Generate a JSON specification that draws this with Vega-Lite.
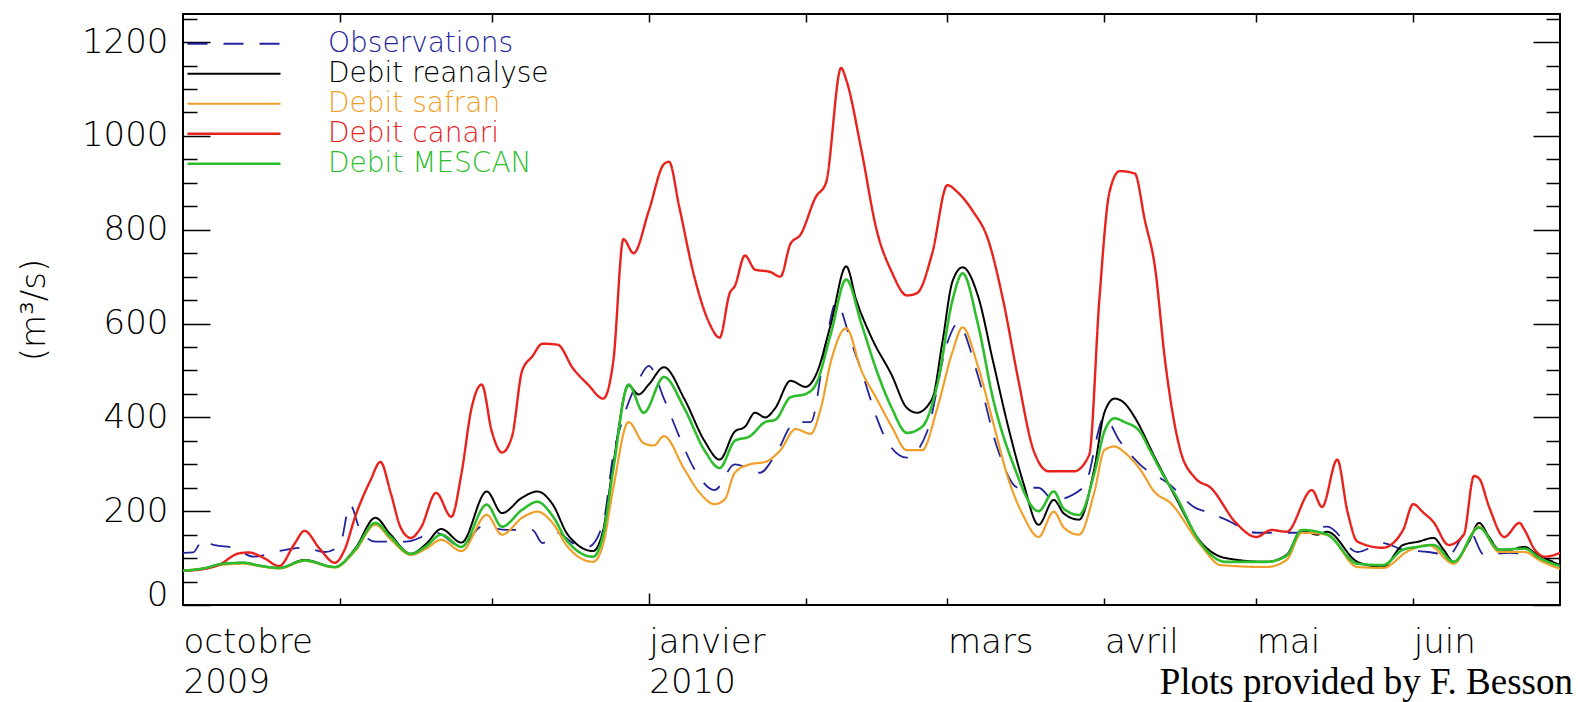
{
  "$schema": "https://vega.github.io/schema/vega-lite/v6.json",
  "width": 1377,
  "height": 591,
  "autosize": {"type": "none"},
  "padding": {"left": 183, "top": 14, "right": 17, "bottom": 97},
  "background": "white",
  "title": {"text": "Plots provided by F. Besson", "orient": "bottom", "anchor": "end", "frame": "group", "align": "right", "baseline": "alphabetic", "offset": -5, "dx": 13, "font": "Liberation Serif", "fontSize": 37, "fontWeight": "normal", "color": "black"},
  "config": {
    "view": {"stroke": "black", "strokeWidth": 2},
    "legend": {"orient": "none", "legendX": 3, "legendY": 15, "padding": 0, "symbolType": "stroke", "symbolSize": 8649, "symbolStrokeWidth": 2, "clipHeight": 29.5, "rowPadding": 0, "labelFontSize": 28, "labelFont": "DejaVu Sans", "labelFontWeight": 200, "labelOffset": 46, "labelLimit": 600, "title": null}
  },
  "datasets": {
    "flows": [
      {"date": "2009-10-01", "series": "Observations", "value": 111},
      {"date": "2009-10-03", "series": "Observations", "value": 112},
      {"date": "2009-10-05", "series": "Observations", "value": 140},
      {"date": "2009-10-07", "series": "Observations", "value": 128},
      {"date": "2009-10-11", "series": "Observations", "value": 122},
      {"date": "2009-10-15", "series": "Observations", "value": 103},
      {"date": "2009-10-20", "series": "Observations", "value": 115},
      {"date": "2009-10-25", "series": "Observations", "value": 122},
      {"date": "2009-10-29", "series": "Observations", "value": 113},
      {"date": "2009-11-01", "series": "Observations", "value": 128},
      {"date": "2009-11-03", "series": "Observations", "value": 214},
      {"date": "2009-11-05", "series": "Observations", "value": 160},
      {"date": "2009-11-08", "series": "Observations", "value": 135},
      {"date": "2009-11-14", "series": "Observations", "value": 135},
      {"date": "2009-11-20", "series": "Observations", "value": 154},
      {"date": "2009-11-25", "series": "Observations", "value": 124},
      {"date": "2009-11-29", "series": "Observations", "value": 167},
      {"date": "2009-12-04", "series": "Observations", "value": 160},
      {"date": "2009-12-09", "series": "Observations", "value": 160},
      {"date": "2009-12-11", "series": "Observations", "value": 132},
      {"date": "2009-12-14", "series": "Observations", "value": 154},
      {"date": "2009-12-17", "series": "Observations", "value": 132},
      {"date": "2009-12-20", "series": "Observations", "value": 124},
      {"date": "2009-12-23", "series": "Observations", "value": 175},
      {"date": "2009-12-25", "series": "Observations", "value": 320},
      {"date": "2009-12-27", "series": "Observations", "value": 400},
      {"date": "2009-12-30", "series": "Observations", "value": 480},
      {"date": "2010-01-01", "series": "Observations", "value": 510},
      {"date": "2010-01-04", "series": "Observations", "value": 440},
      {"date": "2010-01-07", "series": "Observations", "value": 360},
      {"date": "2010-01-10", "series": "Observations", "value": 290},
      {"date": "2010-01-14", "series": "Observations", "value": 245},
      {"date": "2010-01-18", "series": "Observations", "value": 300},
      {"date": "2010-01-23", "series": "Observations", "value": 282},
      {"date": "2010-01-26", "series": "Observations", "value": 320},
      {"date": "2010-01-30", "series": "Observations", "value": 390},
      {"date": "2010-02-02", "series": "Observations", "value": 390},
      {"date": "2010-02-05", "series": "Observations", "value": 560},
      {"date": "2010-02-07", "series": "Observations", "value": 645},
      {"date": "2010-02-10", "series": "Observations", "value": 560},
      {"date": "2010-02-12", "series": "Observations", "value": 500},
      {"date": "2010-02-15", "series": "Observations", "value": 400},
      {"date": "2010-02-17", "series": "Observations", "value": 350},
      {"date": "2010-02-21", "series": "Observations", "value": 314},
      {"date": "2010-02-25", "series": "Observations", "value": 370},
      {"date": "2010-03-01", "series": "Observations", "value": 560},
      {"date": "2010-03-03", "series": "Observations", "value": 600},
      {"date": "2010-03-07", "series": "Observations", "value": 490},
      {"date": "2010-03-11", "series": "Observations", "value": 330},
      {"date": "2010-03-15", "series": "Observations", "value": 250},
      {"date": "2010-03-19", "series": "Observations", "value": 250},
      {"date": "2010-03-22", "series": "Observations", "value": 224},
      {"date": "2010-03-28", "series": "Observations", "value": 252},
      {"date": "2010-04-01", "series": "Observations", "value": 400},
      {"date": "2010-04-04", "series": "Observations", "value": 350},
      {"date": "2010-04-08", "series": "Observations", "value": 300},
      {"date": "2010-04-14", "series": "Observations", "value": 256},
      {"date": "2010-04-19", "series": "Observations", "value": 207},
      {"date": "2010-04-21", "series": "Observations", "value": 199},
      {"date": "2010-04-25", "series": "Observations", "value": 182},
      {"date": "2010-05-01", "series": "Observations", "value": 154},
      {"date": "2010-05-09", "series": "Observations", "value": 154},
      {"date": "2010-05-15", "series": "Observations", "value": 167},
      {"date": "2010-05-21", "series": "Observations", "value": 113},
      {"date": "2010-05-26", "series": "Observations", "value": 132},
      {"date": "2010-05-30", "series": "Observations", "value": 118},
      {"date": "2010-06-04", "series": "Observations", "value": 113},
      {"date": "2010-06-08", "series": "Observations", "value": 107},
      {"date": "2010-06-12", "series": "Observations", "value": 160},
      {"date": "2010-06-15", "series": "Observations", "value": 107},
      {"date": "2010-06-20", "series": "Observations", "value": 111},
      {"date": "2010-06-26", "series": "Observations", "value": 100},
      {"date": "2010-06-28", "series": "Observations", "value": 92},
      {"date": "2010-06-30", "series": "Observations", "value": 103},

      {"date": "2009-10-01", "series": "Debit reanalyse", "value": 73},
      {"date": "2009-10-05", "series": "Debit reanalyse", "value": 78},
      {"date": "2009-10-09", "series": "Debit reanalyse", "value": 88},
      {"date": "2009-10-13", "series": "Debit reanalyse", "value": 90},
      {"date": "2009-10-16", "series": "Debit reanalyse", "value": 84},
      {"date": "2009-10-20", "series": "Debit reanalyse", "value": 79},
      {"date": "2009-10-25", "series": "Debit reanalyse", "value": 96},
      {"date": "2009-10-31", "series": "Debit reanalyse", "value": 81},
      {"date": "2009-11-04", "series": "Debit reanalyse", "value": 120},
      {"date": "2009-11-08", "series": "Debit reanalyse", "value": 186},
      {"date": "2009-11-11", "series": "Debit reanalyse", "value": 150},
      {"date": "2009-11-15", "series": "Debit reanalyse", "value": 109},
      {"date": "2009-11-18", "series": "Debit reanalyse", "value": 130},
      {"date": "2009-11-21", "series": "Debit reanalyse", "value": 162},
      {"date": "2009-11-25", "series": "Debit reanalyse", "value": 133},
      {"date": "2009-11-30", "series": "Debit reanalyse", "value": 242},
      {"date": "2009-12-03", "series": "Debit reanalyse", "value": 196},
      {"date": "2009-12-07", "series": "Debit reanalyse", "value": 229},
      {"date": "2009-12-10", "series": "Debit reanalyse", "value": 242},
      {"date": "2009-12-13", "series": "Debit reanalyse", "value": 215},
      {"date": "2009-12-16", "series": "Debit reanalyse", "value": 150},
      {"date": "2009-12-21", "series": "Debit reanalyse", "value": 115},
      {"date": "2009-12-23", "series": "Debit reanalyse", "value": 160},
      {"date": "2009-12-25", "series": "Debit reanalyse", "value": 300},
      {"date": "2009-12-28", "series": "Debit reanalyse", "value": 468},
      {"date": "2009-12-30", "series": "Debit reanalyse", "value": 449},
      {"date": "2010-01-01", "series": "Debit reanalyse", "value": 470},
      {"date": "2010-01-04", "series": "Debit reanalyse", "value": 507},
      {"date": "2010-01-08", "series": "Debit reanalyse", "value": 440},
      {"date": "2010-01-12", "series": "Debit reanalyse", "value": 350},
      {"date": "2010-01-15", "series": "Debit reanalyse", "value": 310},
      {"date": "2010-01-18", "series": "Debit reanalyse", "value": 370},
      {"date": "2010-01-20", "series": "Debit reanalyse", "value": 380},
      {"date": "2010-01-22", "series": "Debit reanalyse", "value": 410},
      {"date": "2010-01-24", "series": "Debit reanalyse", "value": 400},
      {"date": "2010-01-26", "series": "Debit reanalyse", "value": 420},
      {"date": "2010-01-29", "series": "Debit reanalyse", "value": 478},
      {"date": "2010-02-01", "series": "Debit reanalyse", "value": 465},
      {"date": "2010-02-03", "series": "Debit reanalyse", "value": 490},
      {"date": "2010-02-06", "series": "Debit reanalyse", "value": 600},
      {"date": "2010-02-09", "series": "Debit reanalyse", "value": 722},
      {"date": "2010-02-11", "series": "Debit reanalyse", "value": 650},
      {"date": "2010-02-14", "series": "Debit reanalyse", "value": 570},
      {"date": "2010-02-18", "series": "Debit reanalyse", "value": 490},
      {"date": "2010-02-21", "series": "Debit reanalyse", "value": 420},
      {"date": "2010-02-23", "series": "Debit reanalyse", "value": 410},
      {"date": "2010-02-26", "series": "Debit reanalyse", "value": 440},
      {"date": "2010-02-28", "series": "Debit reanalyse", "value": 560},
      {"date": "2010-03-02", "series": "Debit reanalyse", "value": 690},
      {"date": "2010-03-04", "series": "Debit reanalyse", "value": 720},
      {"date": "2010-03-07", "series": "Debit reanalyse", "value": 660},
      {"date": "2010-03-10", "series": "Debit reanalyse", "value": 520},
      {"date": "2010-03-13", "series": "Debit reanalyse", "value": 380},
      {"date": "2010-03-16", "series": "Debit reanalyse", "value": 260},
      {"date": "2010-03-19", "series": "Debit reanalyse", "value": 171},
      {"date": "2010-03-22", "series": "Debit reanalyse", "value": 224},
      {"date": "2010-03-24", "series": "Debit reanalyse", "value": 195},
      {"date": "2010-03-27", "series": "Debit reanalyse", "value": 182},
      {"date": "2010-03-30", "series": "Debit reanalyse", "value": 290},
      {"date": "2010-04-01", "series": "Debit reanalyse", "value": 410},
      {"date": "2010-04-03", "series": "Debit reanalyse", "value": 440},
      {"date": "2010-04-05", "series": "Debit reanalyse", "value": 430},
      {"date": "2010-04-07", "series": "Debit reanalyse", "value": 400},
      {"date": "2010-04-11", "series": "Debit reanalyse", "value": 314},
      {"date": "2010-04-15", "series": "Debit reanalyse", "value": 231},
      {"date": "2010-04-20", "series": "Debit reanalyse", "value": 135},
      {"date": "2010-04-25", "series": "Debit reanalyse", "value": 100},
      {"date": "2010-05-03", "series": "Debit reanalyse", "value": 92},
      {"date": "2010-05-07", "series": "Debit reanalyse", "value": 107},
      {"date": "2010-05-10", "series": "Debit reanalyse", "value": 160},
      {"date": "2010-05-13", "series": "Debit reanalyse", "value": 150},
      {"date": "2010-05-15", "series": "Debit reanalyse", "value": 156},
      {"date": "2010-05-21", "series": "Debit reanalyse", "value": 92},
      {"date": "2010-05-26", "series": "Debit reanalyse", "value": 81},
      {"date": "2010-05-30", "series": "Debit reanalyse", "value": 128},
      {"date": "2010-06-02", "series": "Debit reanalyse", "value": 135},
      {"date": "2010-06-05", "series": "Debit reanalyse", "value": 143},
      {"date": "2010-06-07", "series": "Debit reanalyse", "value": 118},
      {"date": "2010-06-09", "series": "Debit reanalyse", "value": 92},
      {"date": "2010-06-12", "series": "Debit reanalyse", "value": 135},
      {"date": "2010-06-14", "series": "Debit reanalyse", "value": 175},
      {"date": "2010-06-16", "series": "Debit reanalyse", "value": 145},
      {"date": "2010-06-18", "series": "Debit reanalyse", "value": 118},
      {"date": "2010-06-20", "series": "Debit reanalyse", "value": 118},
      {"date": "2010-06-23", "series": "Debit reanalyse", "value": 124},
      {"date": "2010-06-25", "series": "Debit reanalyse", "value": 111},
      {"date": "2010-06-27", "series": "Debit reanalyse", "value": 100},
      {"date": "2010-06-30", "series": "Debit reanalyse", "value": 85},

      {"date": "2009-10-01", "series": "Debit safran", "value": 73},
      {"date": "2009-10-05", "series": "Debit safran", "value": 78},
      {"date": "2009-10-09", "series": "Debit safran", "value": 86},
      {"date": "2009-10-13", "series": "Debit safran", "value": 88},
      {"date": "2009-10-16", "series": "Debit safran", "value": 83},
      {"date": "2009-10-20", "series": "Debit safran", "value": 78},
      {"date": "2009-10-25", "series": "Debit safran", "value": 94},
      {"date": "2009-10-31", "series": "Debit safran", "value": 80},
      {"date": "2009-11-04", "series": "Debit safran", "value": 115},
      {"date": "2009-11-08", "series": "Debit safran", "value": 171},
      {"date": "2009-11-11", "series": "Debit safran", "value": 140},
      {"date": "2009-11-15", "series": "Debit safran", "value": 107},
      {"date": "2009-11-18", "series": "Debit safran", "value": 120},
      {"date": "2009-11-21", "series": "Debit safran", "value": 139},
      {"date": "2009-11-25", "series": "Debit safran", "value": 115},
      {"date": "2009-11-30", "series": "Debit safran", "value": 192},
      {"date": "2009-12-03", "series": "Debit safran", "value": 150},
      {"date": "2009-12-07", "series": "Debit safran", "value": 186},
      {"date": "2009-12-10", "series": "Debit safran", "value": 199},
      {"date": "2009-12-13", "series": "Debit safran", "value": 175},
      {"date": "2009-12-16", "series": "Debit safran", "value": 124},
      {"date": "2009-12-21", "series": "Debit safran", "value": 92},
      {"date": "2009-12-23", "series": "Debit safran", "value": 130},
      {"date": "2009-12-25", "series": "Debit safran", "value": 250},
      {"date": "2009-12-28", "series": "Debit safran", "value": 390},
      {"date": "2009-12-31", "series": "Debit safran", "value": 345},
      {"date": "2010-01-02", "series": "Debit safran", "value": 340},
      {"date": "2010-01-04", "series": "Debit safran", "value": 360},
      {"date": "2010-01-08", "series": "Debit safran", "value": 290},
      {"date": "2010-01-11", "series": "Debit safran", "value": 240},
      {"date": "2010-01-14", "series": "Debit safran", "value": 215},
      {"date": "2010-01-16", "series": "Debit safran", "value": 225},
      {"date": "2010-01-18", "series": "Debit safran", "value": 282},
      {"date": "2010-01-21", "series": "Debit safran", "value": 300},
      {"date": "2010-01-24", "series": "Debit safran", "value": 305},
      {"date": "2010-01-27", "series": "Debit safran", "value": 330},
      {"date": "2010-01-30", "series": "Debit safran", "value": 375},
      {"date": "2010-02-02", "series": "Debit safran", "value": 365},
      {"date": "2010-02-04", "series": "Debit safran", "value": 420},
      {"date": "2010-02-06", "series": "Debit safran", "value": 520},
      {"date": "2010-02-09", "series": "Debit safran", "value": 590},
      {"date": "2010-02-12", "series": "Debit safran", "value": 500},
      {"date": "2010-02-15", "series": "Debit safran", "value": 440},
      {"date": "2010-02-18", "series": "Debit safran", "value": 380},
      {"date": "2010-02-21", "series": "Debit safran", "value": 330},
      {"date": "2010-02-24", "series": "Debit safran", "value": 330},
      {"date": "2010-02-27", "series": "Debit safran", "value": 420},
      {"date": "2010-03-02", "series": "Debit safran", "value": 540},
      {"date": "2010-03-04", "series": "Debit safran", "value": 592},
      {"date": "2010-03-07", "series": "Debit safran", "value": 510},
      {"date": "2010-03-10", "series": "Debit safran", "value": 390},
      {"date": "2010-03-13", "series": "Debit safran", "value": 270},
      {"date": "2010-03-16", "series": "Debit safran", "value": 190},
      {"date": "2010-03-19", "series": "Debit safran", "value": 145},
      {"date": "2010-03-22", "series": "Debit safran", "value": 199},
      {"date": "2010-03-24", "series": "Debit safran", "value": 165},
      {"date": "2010-03-27", "series": "Debit safran", "value": 150},
      {"date": "2010-03-30", "series": "Debit safran", "value": 240},
      {"date": "2010-04-01", "series": "Debit safran", "value": 330},
      {"date": "2010-04-03", "series": "Debit safran", "value": 338},
      {"date": "2010-04-05", "series": "Debit safran", "value": 325},
      {"date": "2010-04-08", "series": "Debit safran", "value": 290},
      {"date": "2010-04-11", "series": "Debit safran", "value": 240},
      {"date": "2010-04-14", "series": "Debit safran", "value": 218},
      {"date": "2010-04-20", "series": "Debit safran", "value": 128},
      {"date": "2010-04-24", "series": "Debit safran", "value": 85},
      {"date": "2010-05-03", "series": "Debit safran", "value": 81},
      {"date": "2010-05-07", "series": "Debit safran", "value": 96},
      {"date": "2010-05-10", "series": "Debit safran", "value": 154},
      {"date": "2010-05-15", "series": "Debit safran", "value": 150},
      {"date": "2010-05-21", "series": "Debit safran", "value": 81},
      {"date": "2010-05-26", "series": "Debit safran", "value": 79},
      {"date": "2010-05-31", "series": "Debit safran", "value": 115},
      {"date": "2010-06-04", "series": "Debit safran", "value": 128},
      {"date": "2010-06-09", "series": "Debit safran", "value": 88},
      {"date": "2010-06-14", "series": "Debit safran", "value": 167},
      {"date": "2010-06-18", "series": "Debit safran", "value": 113},
      {"date": "2010-06-23", "series": "Debit safran", "value": 113},
      {"date": "2010-06-26", "series": "Debit safran", "value": 95},
      {"date": "2010-06-30", "series": "Debit safran", "value": 77},

      {"date": "2009-10-01", "series": "Debit canari", "value": 73},
      {"date": "2009-10-04", "series": "Debit canari", "value": 75},
      {"date": "2009-10-08", "series": "Debit canari", "value": 85},
      {"date": "2009-10-12", "series": "Debit canari", "value": 110},
      {"date": "2009-10-14", "series": "Debit canari", "value": 112},
      {"date": "2009-10-17", "series": "Debit canari", "value": 100},
      {"date": "2009-10-20", "series": "Debit canari", "value": 83},
      {"date": "2009-10-23", "series": "Debit canari", "value": 130},
      {"date": "2009-10-25", "series": "Debit canari", "value": 158},
      {"date": "2009-10-28", "series": "Debit canari", "value": 120},
      {"date": "2009-10-31", "series": "Debit canari", "value": 90},
      {"date": "2009-11-02", "series": "Debit canari", "value": 120},
      {"date": "2009-11-04", "series": "Debit canari", "value": 188},
      {"date": "2009-11-07", "series": "Debit canari", "value": 265},
      {"date": "2009-11-09", "series": "Debit canari", "value": 305},
      {"date": "2009-11-11", "series": "Debit canari", "value": 240},
      {"date": "2009-11-13", "series": "Debit canari", "value": 165},
      {"date": "2009-11-15", "series": "Debit canari", "value": 143},
      {"date": "2009-11-17", "series": "Debit canari", "value": 165},
      {"date": "2009-11-20", "series": "Debit canari", "value": 239},
      {"date": "2009-11-23", "series": "Debit canari", "value": 188},
      {"date": "2009-11-25", "series": "Debit canari", "value": 280},
      {"date": "2009-11-27", "series": "Debit canari", "value": 420},
      {"date": "2009-11-29", "series": "Debit canari", "value": 470},
      {"date": "2009-12-01", "series": "Debit canari", "value": 370},
      {"date": "2009-12-03", "series": "Debit canari", "value": 325},
      {"date": "2009-12-05", "series": "Debit canari", "value": 360},
      {"date": "2009-12-07", "series": "Debit canari", "value": 500},
      {"date": "2009-12-09", "series": "Debit canari", "value": 530},
      {"date": "2009-12-11", "series": "Debit canari", "value": 557},
      {"date": "2009-12-14", "series": "Debit canari", "value": 555},
      {"date": "2009-12-17", "series": "Debit canari", "value": 505},
      {"date": "2009-12-20", "series": "Debit canari", "value": 470},
      {"date": "2009-12-23", "series": "Debit canari", "value": 440},
      {"date": "2009-12-25", "series": "Debit canari", "value": 520},
      {"date": "2009-12-27", "series": "Debit canari", "value": 780},
      {"date": "2009-12-29", "series": "Debit canari", "value": 750},
      {"date": "2010-01-01", "series": "Debit canari", "value": 840},
      {"date": "2010-01-04", "series": "Debit canari", "value": 940},
      {"date": "2010-01-05", "series": "Debit canari", "value": 945},
      {"date": "2010-01-07", "series": "Debit canari", "value": 850},
      {"date": "2010-01-10", "series": "Debit canari", "value": 700},
      {"date": "2010-01-13", "series": "Debit canari", "value": 600},
      {"date": "2010-01-15", "series": "Debit canari", "value": 570},
      {"date": "2010-01-17", "series": "Debit canari", "value": 665},
      {"date": "2010-01-18", "series": "Debit canari", "value": 680},
      {"date": "2010-01-20", "series": "Debit canari", "value": 745},
      {"date": "2010-01-22", "series": "Debit canari", "value": 715},
      {"date": "2010-01-25", "series": "Debit canari", "value": 710},
      {"date": "2010-01-27", "series": "Debit canari", "value": 700},
      {"date": "2010-01-29", "series": "Debit canari", "value": 770},
      {"date": "2010-01-31", "series": "Debit canari", "value": 790},
      {"date": "2010-02-03", "series": "Debit canari", "value": 870},
      {"date": "2010-02-05", "series": "Debit canari", "value": 900},
      {"date": "2010-02-08", "series": "Debit canari", "value": 1145},
      {"date": "2010-02-09", "series": "Debit canari", "value": 1120},
      {"date": "2010-02-12", "series": "Debit canari", "value": 970},
      {"date": "2010-02-15", "series": "Debit canari", "value": 800},
      {"date": "2010-02-18", "series": "Debit canari", "value": 710},
      {"date": "2010-02-21", "series": "Debit canari", "value": 660},
      {"date": "2010-02-23", "series": "Debit canari", "value": 665},
      {"date": "2010-02-26", "series": "Debit canari", "value": 750},
      {"date": "2010-03-01", "series": "Debit canari", "value": 895},
      {"date": "2010-03-03", "series": "Debit canari", "value": 880},
      {"date": "2010-03-06", "series": "Debit canari", "value": 840},
      {"date": "2010-03-09", "series": "Debit canari", "value": 780},
      {"date": "2010-03-12", "series": "Debit canari", "value": 650},
      {"date": "2010-03-15", "series": "Debit canari", "value": 480},
      {"date": "2010-03-18", "series": "Debit canari", "value": 330},
      {"date": "2010-03-21", "series": "Debit canari", "value": 285},
      {"date": "2010-03-26", "series": "Debit canari", "value": 285},
      {"date": "2010-03-29", "series": "Debit canari", "value": 320},
      {"date": "2010-03-31", "series": "Debit canari", "value": 650},
      {"date": "2010-04-02", "series": "Debit canari", "value": 880},
      {"date": "2010-04-04", "series": "Debit canari", "value": 925},
      {"date": "2010-04-07", "series": "Debit canari", "value": 920},
      {"date": "2010-04-09", "series": "Debit canari", "value": 820},
      {"date": "2010-04-11", "series": "Debit canari", "value": 720},
      {"date": "2010-04-13", "series": "Debit canari", "value": 520},
      {"date": "2010-04-16", "series": "Debit canari", "value": 330},
      {"date": "2010-04-19", "series": "Debit canari", "value": 270},
      {"date": "2010-04-22", "series": "Debit canari", "value": 250},
      {"date": "2010-04-27", "series": "Debit canari", "value": 175},
      {"date": "2010-05-01", "series": "Debit canari", "value": 145},
      {"date": "2010-05-04", "series": "Debit canari", "value": 160},
      {"date": "2010-05-07", "series": "Debit canari", "value": 156},
      {"date": "2010-05-12", "series": "Debit canari", "value": 245},
      {"date": "2010-05-14", "series": "Debit canari", "value": 209},
      {"date": "2010-05-17", "series": "Debit canari", "value": 310},
      {"date": "2010-05-19", "series": "Debit canari", "value": 200},
      {"date": "2010-05-21", "series": "Debit canari", "value": 135},
      {"date": "2010-05-26", "series": "Debit canari", "value": 122},
      {"date": "2010-05-30", "series": "Debit canari", "value": 160},
      {"date": "2010-06-01", "series": "Debit canari", "value": 215},
      {"date": "2010-06-03", "series": "Debit canari", "value": 197},
      {"date": "2010-06-05", "series": "Debit canari", "value": 177},
      {"date": "2010-06-08", "series": "Debit canari", "value": 128},
      {"date": "2010-06-11", "series": "Debit canari", "value": 150},
      {"date": "2010-06-13", "series": "Debit canari", "value": 275},
      {"date": "2010-06-14", "series": "Debit canari", "value": 270},
      {"date": "2010-06-16", "series": "Debit canari", "value": 209},
      {"date": "2010-06-19", "series": "Debit canari", "value": 145},
      {"date": "2010-06-22", "series": "Debit canari", "value": 175},
      {"date": "2010-06-23", "series": "Debit canari", "value": 160},
      {"date": "2010-06-25", "series": "Debit canari", "value": 118},
      {"date": "2010-06-27", "series": "Debit canari", "value": 103},
      {"date": "2010-06-30", "series": "Debit canari", "value": 111},

      {"date": "2009-10-01", "series": "Debit MESCAN", "value": 73},
      {"date": "2009-10-05", "series": "Debit MESCAN", "value": 78},
      {"date": "2009-10-09", "series": "Debit MESCAN", "value": 88},
      {"date": "2009-10-13", "series": "Debit MESCAN", "value": 90},
      {"date": "2009-10-16", "series": "Debit MESCAN", "value": 84},
      {"date": "2009-10-20", "series": "Debit MESCAN", "value": 79},
      {"date": "2009-10-25", "series": "Debit MESCAN", "value": 95},
      {"date": "2009-10-31", "series": "Debit MESCAN", "value": 81},
      {"date": "2009-11-04", "series": "Debit MESCAN", "value": 118},
      {"date": "2009-11-08", "series": "Debit MESCAN", "value": 175},
      {"date": "2009-11-11", "series": "Debit MESCAN", "value": 145},
      {"date": "2009-11-15", "series": "Debit MESCAN", "value": 109},
      {"date": "2009-11-18", "series": "Debit MESCAN", "value": 125},
      {"date": "2009-11-21", "series": "Debit MESCAN", "value": 150},
      {"date": "2009-11-25", "series": "Debit MESCAN", "value": 124},
      {"date": "2009-11-30", "series": "Debit MESCAN", "value": 214},
      {"date": "2009-12-03", "series": "Debit MESCAN", "value": 167},
      {"date": "2009-12-07", "series": "Debit MESCAN", "value": 203},
      {"date": "2009-12-10", "series": "Debit MESCAN", "value": 220},
      {"date": "2009-12-13", "series": "Debit MESCAN", "value": 190},
      {"date": "2009-12-16", "series": "Debit MESCAN", "value": 135},
      {"date": "2009-12-21", "series": "Debit MESCAN", "value": 103},
      {"date": "2009-12-23", "series": "Debit MESCAN", "value": 150},
      {"date": "2009-12-25", "series": "Debit MESCAN", "value": 290},
      {"date": "2009-12-28", "series": "Debit MESCAN", "value": 470},
      {"date": "2009-12-31", "series": "Debit MESCAN", "value": 410},
      {"date": "2010-01-04", "series": "Debit MESCAN", "value": 486},
      {"date": "2010-01-08", "series": "Debit MESCAN", "value": 420},
      {"date": "2010-01-12", "series": "Debit MESCAN", "value": 330},
      {"date": "2010-01-15", "series": "Debit MESCAN", "value": 292},
      {"date": "2010-01-18", "series": "Debit MESCAN", "value": 350},
      {"date": "2010-01-21", "series": "Debit MESCAN", "value": 360},
      {"date": "2010-01-24", "series": "Debit MESCAN", "value": 390},
      {"date": "2010-01-26", "series": "Debit MESCAN", "value": 395},
      {"date": "2010-01-29", "series": "Debit MESCAN", "value": 443},
      {"date": "2010-02-01", "series": "Debit MESCAN", "value": 450},
      {"date": "2010-02-03", "series": "Debit MESCAN", "value": 470},
      {"date": "2010-02-06", "series": "Debit MESCAN", "value": 580},
      {"date": "2010-02-09", "series": "Debit MESCAN", "value": 694},
      {"date": "2010-02-12", "series": "Debit MESCAN", "value": 600},
      {"date": "2010-02-15", "series": "Debit MESCAN", "value": 500},
      {"date": "2010-02-18", "series": "Debit MESCAN", "value": 420},
      {"date": "2010-02-21", "series": "Debit MESCAN", "value": 367},
      {"date": "2010-02-24", "series": "Debit MESCAN", "value": 380},
      {"date": "2010-02-27", "series": "Debit MESCAN", "value": 470},
      {"date": "2010-03-02", "series": "Debit MESCAN", "value": 650},
      {"date": "2010-03-04", "series": "Debit MESCAN", "value": 707},
      {"date": "2010-03-07", "series": "Debit MESCAN", "value": 600},
      {"date": "2010-03-10", "series": "Debit MESCAN", "value": 440},
      {"date": "2010-03-14", "series": "Debit MESCAN", "value": 300},
      {"date": "2010-03-19", "series": "Debit MESCAN", "value": 200},
      {"date": "2010-03-22", "series": "Debit MESCAN", "value": 242},
      {"date": "2010-03-24", "series": "Debit MESCAN", "value": 205},
      {"date": "2010-03-27", "series": "Debit MESCAN", "value": 192},
      {"date": "2010-03-30", "series": "Debit MESCAN", "value": 280},
      {"date": "2010-04-01", "series": "Debit MESCAN", "value": 370},
      {"date": "2010-04-03", "series": "Debit MESCAN", "value": 398},
      {"date": "2010-04-05", "series": "Debit MESCAN", "value": 390},
      {"date": "2010-04-08", "series": "Debit MESCAN", "value": 370},
      {"date": "2010-04-10", "series": "Debit MESCAN", "value": 330},
      {"date": "2010-04-13", "series": "Debit MESCAN", "value": 270},
      {"date": "2010-04-15", "series": "Debit MESCAN", "value": 235},
      {"date": "2010-04-20", "series": "Debit MESCAN", "value": 132},
      {"date": "2010-04-25", "series": "Debit MESCAN", "value": 92},
      {"date": "2010-05-03", "series": "Debit MESCAN", "value": 92},
      {"date": "2010-05-07", "series": "Debit MESCAN", "value": 105},
      {"date": "2010-05-10", "series": "Debit MESCAN", "value": 160},
      {"date": "2010-05-15", "series": "Debit MESCAN", "value": 150},
      {"date": "2010-05-21", "series": "Debit MESCAN", "value": 88},
      {"date": "2010-05-26", "series": "Debit MESCAN", "value": 85},
      {"date": "2010-05-30", "series": "Debit MESCAN", "value": 118},
      {"date": "2010-06-02", "series": "Debit MESCAN", "value": 124},
      {"date": "2010-06-05", "series": "Debit MESCAN", "value": 128},
      {"date": "2010-06-09", "series": "Debit MESCAN", "value": 92},
      {"date": "2010-06-14", "series": "Debit MESCAN", "value": 165},
      {"date": "2010-06-18", "series": "Debit MESCAN", "value": 118},
      {"date": "2010-06-23", "series": "Debit MESCAN", "value": 120},
      {"date": "2010-06-26", "series": "Debit MESCAN", "value": 100},
      {"date": "2010-06-30", "series": "Debit MESCAN", "value": 83}
    ]
  },
  "data": {"name": "flows"},
  "layer": [
    {
      "mark": {"type": "line", "interpolate": "monotone"},
      "encoding": {
        "x": {
          "field": "date", "type": "temporal",
          "scale": {"type": "utc", "domain": [{"year": 2009, "month": 10, "date": 1, "utc": true}, {"year": 2010, "month": 6, "date": 30, "utc": true}]},
          "axis": {
            "orient": "bottom", "title": null, "ticks": false, "domain": false, "grid": false,
            "values": [{"year": 2009, "month": 10, "date": 1, "utc": true}, {"year": 2009, "month": 11, "date": 1, "utc": true}, {"year": 2009, "month": 12, "date": 1, "utc": true}, {"year": 2010, "month": 1, "date": 1, "utc": true}, {"year": 2010, "month": 2, "date": 1, "utc": true}, {"year": 2010, "month": 3, "date": 1, "utc": true}, {"year": 2010, "month": 4, "date": 1, "utc": true}, {"year": 2010, "month": 5, "date": 1, "utc": true}, {"year": 2010, "month": 6, "date": 1, "utc": true}],
            "labelExpr": "utcmonth(datum.value) == 9 ? ['octobre', '2009'] : utcmonth(datum.value) == 0 ? ['janvier', '2010'] : utcmonth(datum.value) == 2 ? 'mars' : utcmonth(datum.value) == 3 ? 'avril' : utcmonth(datum.value) == 4 ? 'mai' : utcmonth(datum.value) == 5 ? 'juin' : ''",
            "labelAlign": "left", "labelBaseline": "top", "labelPadding": 20, "labelLineHeight": 40,
            "labelFont": "DejaVu Sans", "labelFontSize": 34, "labelFontWeight": 200, "labelColor": "black",
            "labelOverlap": false, "labelBound": false, "labelFlush": false, "labelLimit": 400
          }
        },
        "y": {
          "field": "value", "type": "quantitative",
          "scale": {"domain": [0, 1260], "nice": false, "zero": false},
          "axis": {
            "orient": "left", "values": [0, 200, 400, 600, 800, 1000, 1200], "format": "d",
            "ticks": false, "domain": false, "grid": false,
            "labelFont": "DejaVu Sans", "labelFontSize": 34, "labelFontWeight": 200, "labelColor": "black", "labelPadding": 15,
            "labelOffset": {"condition": {"test": "datum.value === 0", "value": -10}, "value": 0},
            "labelOverlap": false, "labelFlush": false,
            "title": "(m³/s)", "titleFont": "DejaVu Sans", "titleFontSize": 34, "titleFontWeight": 200, "titleColor": "black", "titlePadding": 30
          }
        },
        "color": {
          "field": "series", "type": "nominal",
          "scale": {"domain": ["Observations", "Debit reanalyse", "Debit safran", "Debit canari", "Debit MESCAN"], "range": ["#23239b", "#000000", "#f0a02a", "#e8231e", "#2dbd2d"]},
          "legend": {"encode": {"labels": {"update": {"fill": {"scale": "color", "field": "value"}}}}}
        },
        "strokeDash": {
          "field": "series", "type": "nominal",
          "scale": {"domain": ["Observations", "Debit reanalyse", "Debit safran", "Debit canari", "Debit MESCAN"], "range": [[20, 16], [1, 0], [1, 0], [1, 0], [1, 0]]},
          "legend": {"encode": {"labels": {"update": {"fill": {"scale": "color", "field": "value"}}}}}
        },
        "strokeWidth": {
          "field": "series", "type": "nominal",
          "scale": {"domain": ["Observations", "Debit reanalyse", "Debit safran", "Debit canari", "Debit MESCAN"], "range": [1.8, 2.6, 2.6, 2.6, 2.6]},
          "legend": null
        }
      }
    },
    {
      "mark": {"type": "rule", "opacity": 0},
      "encoding": {
        "y": {
          "field": "value", "type": "quantitative",
          "scale": {"domain": [0, 1260], "nice": false, "zero": false},
          "axis": {"orient": "left", "values": [0, 50, 100, 150, 200, 250, 300, 350, 400, 450, 500, 550, 600, 650, 700, 750, 800, 850, 900, 950, 1000, 1050, 1100, 1150, 1200, 1250], "labels": false, "domain": false, "grid": false, "ticks": true, "tickColor": "black", "tickWidth": 1.5, "tickSize": {"condition": {"test": "datum.value % 200 === 0", "value": -27}, "value": -14}, "title": null}
        }
      }
    },
    {
      "mark": {"type": "rule", "opacity": 0},
      "encoding": {
        "y": {
          "field": "value", "type": "quantitative",
          "scale": {"domain": [0, 1260], "nice": false, "zero": false},
          "axis": {"orient": "right", "values": [0, 50, 100, 150, 200, 250, 300, 350, 400, 450, 500, 550, 600, 650, 700, 750, 800, 850, 900, 950, 1000, 1050, 1100, 1150, 1200, 1250], "labels": false, "domain": false, "grid": false, "ticks": true, "tickColor": "black", "tickWidth": 1.5, "tickSize": {"condition": {"test": "datum.value % 200 === 0", "value": -27}, "value": -14}, "title": null}
        }
      }
    },
    {
      "mark": {"type": "rule", "opacity": 0},
      "encoding": {
        "x": {
          "field": "date", "type": "temporal",
          "scale": {"type": "utc", "domain": [{"year": 2009, "month": 10, "date": 1, "utc": true}, {"year": 2010, "month": 6, "date": 30, "utc": true}]},
          "axis": {"orient": "bottom", "values": [{"year": 2009, "month": 11, "date": 1, "utc": true}, {"year": 2009, "month": 12, "date": 1, "utc": true}, {"year": 2010, "month": 1, "date": 1, "utc": true}, {"year": 2010, "month": 2, "date": 1, "utc": true}, {"year": 2010, "month": 3, "date": 1, "utc": true}, {"year": 2010, "month": 4, "date": 1, "utc": true}, {"year": 2010, "month": 5, "date": 1, "utc": true}, {"year": 2010, "month": 6, "date": 1, "utc": true}], "labels": false, "domain": false, "grid": false, "ticks": true, "tickColor": "black", "tickWidth": 1.5, "tickSize": {"condition": {"test": "utcmonth(datum.value) === 0", "value": -12}, "value": -7}, "title": null}
        }
      }
    },
    {
      "mark": {"type": "rule", "opacity": 0},
      "encoding": {
        "x": {
          "field": "date", "type": "temporal",
          "scale": {"type": "utc", "domain": [{"year": 2009, "month": 10, "date": 1, "utc": true}, {"year": 2010, "month": 6, "date": 30, "utc": true}]},
          "axis": {"orient": "top", "values": [{"year": 2009, "month": 11, "date": 1, "utc": true}, {"year": 2009, "month": 12, "date": 1, "utc": true}, {"year": 2010, "month": 1, "date": 1, "utc": true}, {"year": 2010, "month": 2, "date": 1, "utc": true}, {"year": 2010, "month": 3, "date": 1, "utc": true}, {"year": 2010, "month": 4, "date": 1, "utc": true}, {"year": 2010, "month": 5, "date": 1, "utc": true}, {"year": 2010, "month": 6, "date": 1, "utc": true}], "labels": false, "domain": false, "grid": false, "ticks": true, "tickColor": "black", "tickWidth": 1.5, "tickSize": -8, "title": null}
        }
      }
    }
  ],
  "resolve": {"axis": {"x": "independent", "y": "independent"}}
}
